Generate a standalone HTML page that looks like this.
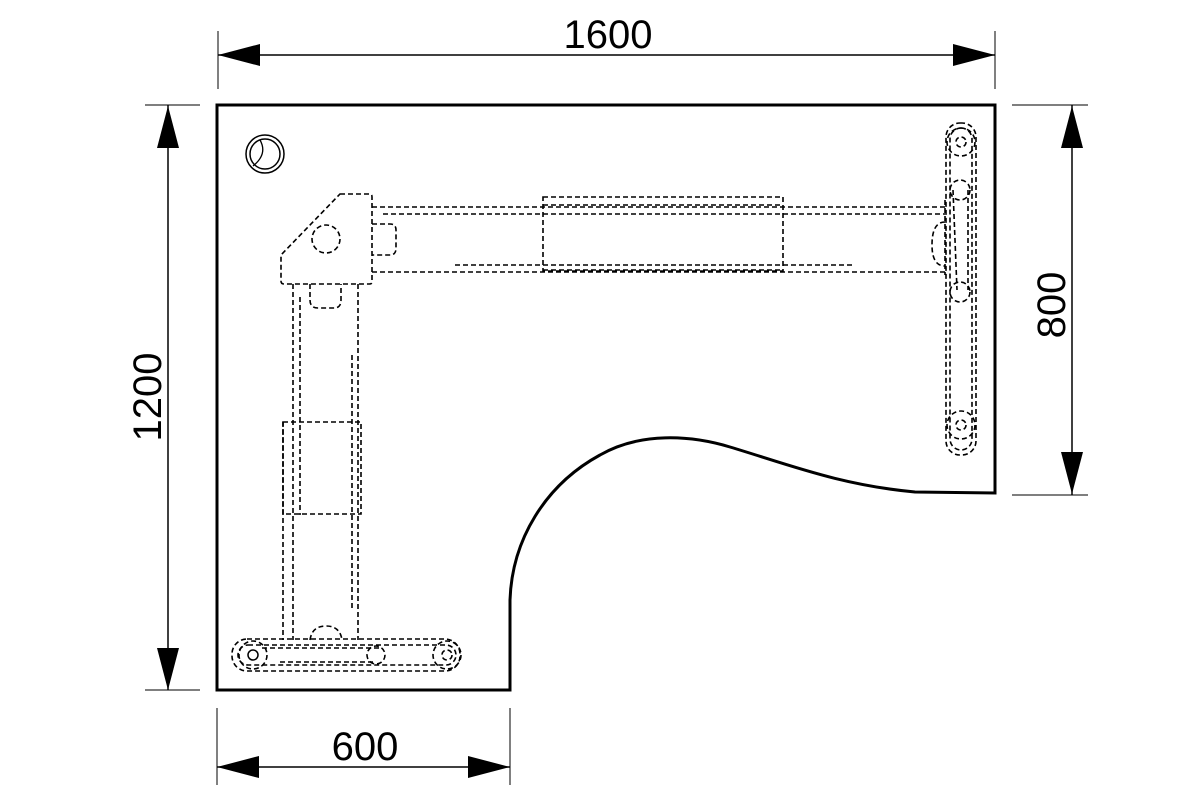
<!DOCTYPE html>
<html><head><meta charset="utf-8"><style>
html,body{margin:0;padding:0;background:#fff;width:1200px;height:800px;overflow:hidden}
svg{display:block}
text{font-family:"Liberation Sans",Arial,sans-serif;font-size:40px;fill:#000}
</style></head><body>
<svg width="1200" height="800" viewBox="0 0 1200 800" xmlns="http://www.w3.org/2000/svg">
<g stroke="#555" stroke-width="1.5">
<line x1="218" y1="31" x2="218" y2="89"/>
<line x1="995" y1="31" x2="995" y2="89"/>
<line x1="145" y1="105" x2="200" y2="105"/>
<line x1="145" y1="690" x2="200" y2="690"/>
<line x1="1012" y1="105" x2="1088" y2="105"/>
<line x1="1012" y1="495" x2="1088" y2="495"/>
<line x1="217" y1="708" x2="217" y2="785"/>
<line x1="510" y1="708" x2="510" y2="785"/>
</g>
<g stroke="#000" stroke-width="1.5">
<line x1="218" y1="55" x2="995" y2="55"/>
<line x1="168" y1="105" x2="168" y2="690"/>
<line x1="1072" y1="105" x2="1072" y2="495"/>
<line x1="217" y1="767" x2="510" y2="767"/>
</g>
<g fill="#000">
<polygon points="218,55 260,44 260,66"/>
<polygon points="995,55 953,44 953,66"/>
<polygon points="168,106 157,148 179,148"/>
<polygon points="168,690 157,648 179,648"/>
<polygon points="1072,106 1061,148 1083,148"/>
<polygon points="1072,494 1061,452 1083,452"/>
<polygon points="217,767 259,756 259,778"/>
<polygon points="510,767 468,756 468,778"/>
</g>
<text x="608" y="48" text-anchor="middle">1600</text>
<text x="365" y="760" text-anchor="middle">600</text>
<text transform="translate(161,397) rotate(-90)" text-anchor="middle">1200</text>
<text transform="translate(1065,305) rotate(-90)" text-anchor="middle">800</text>
<path d="M217,105 H995 V493 L915,492 C840,485 790,465 730,447 C690,435 640,432 600,455 C545,485 512,540 510,600 V690 H217 Z" fill="none" stroke="#000" stroke-width="3"/>
<circle cx="265" cy="154" r="19" fill="none" stroke="#000" stroke-width="1.5"/>
<circle cx="265" cy="154" r="15" fill="none" stroke="#000" stroke-width="1.5"/>
<path d="M260,140 Q268,154 253,166" fill="none" stroke="#000" stroke-width="1.3"/>
<g fill="none" stroke="#000" stroke-width="1.6" stroke-dasharray="5,3">
<path d="M340,194 H370 Q372,194 372,197 V282 Q372,284 369,284 H284 Q281,284 281,281 V255 L340,194 Z"/>
<circle cx="326" cy="239" r="14"/>
<path d="M372,224 H390 Q396,224 396,230 V248 Q396,255 390,255 H372"/>
<path d="M310,284 V300 Q310,308 318,308 H334 Q341,308 341,300 V284"/>
<line x1="372" y1="207" x2="945" y2="207"/>
<line x1="383" y1="214" x2="945" y2="214"/>
<line x1="372" y1="272" x2="945" y2="272"/>
<rect x="543" y="197" width="240" height="74"/>
<line x1="543" y1="205" x2="783" y2="205"/>
<line x1="455" y1="265" x2="855" y2="265"/>
<line x1="543" y1="270" x2="783" y2="270"/>
<path d="M945,200 V275"/>
<path d="M945,222 Q932,222 932,245 Q932,266 945,266"/>
<rect x="946" y="123" width="30" height="332" rx="14"/>
<rect x="950" y="128" width="22" height="322" rx="11"/>
<circle cx="961" cy="142" r="14"/>
<circle cx="961" cy="142" r="5"/>
<circle cx="961" cy="425" r="14"/>
<circle cx="961" cy="425" r="5"/>
<circle cx="960" cy="190" r="10"/>
<circle cx="960" cy="292" r="10"/>
<line x1="953" y1="190" x2="957" y2="290"/>
<line x1="968" y1="190" x2="968" y2="290"/>
<line x1="293" y1="284" x2="293" y2="640"/>
<line x1="300" y1="297" x2="300" y2="515"/>
<line x1="358" y1="284" x2="358" y2="640"/>
<line x1="352" y1="355" x2="352" y2="610"/>
<rect x="283" y="422" width="78" height="92"/>
<line x1="283" y1="422" x2="283" y2="640"/>
<path d="M310,640 Q312,626 326,626 Q340,626 342,640"/>
<rect x="232" y="639" width="228" height="32" rx="15"/>
<rect x="238" y="645" width="218" height="20" rx="10"/>
<circle cx="253" cy="655" r="14"/>
<circle cx="447" cy="655" r="14"/>
<circle cx="447" cy="655" r="5"/>
<circle cx="376" cy="655" r="9"/>
<line x1="262" y1="648" x2="380" y2="648"/>
<line x1="280" y1="662" x2="375" y2="662"/>
</g>
<circle cx="253" cy="655" r="5" fill="none" stroke="#000" stroke-width="1.5"/>
</svg>
</body></html>
